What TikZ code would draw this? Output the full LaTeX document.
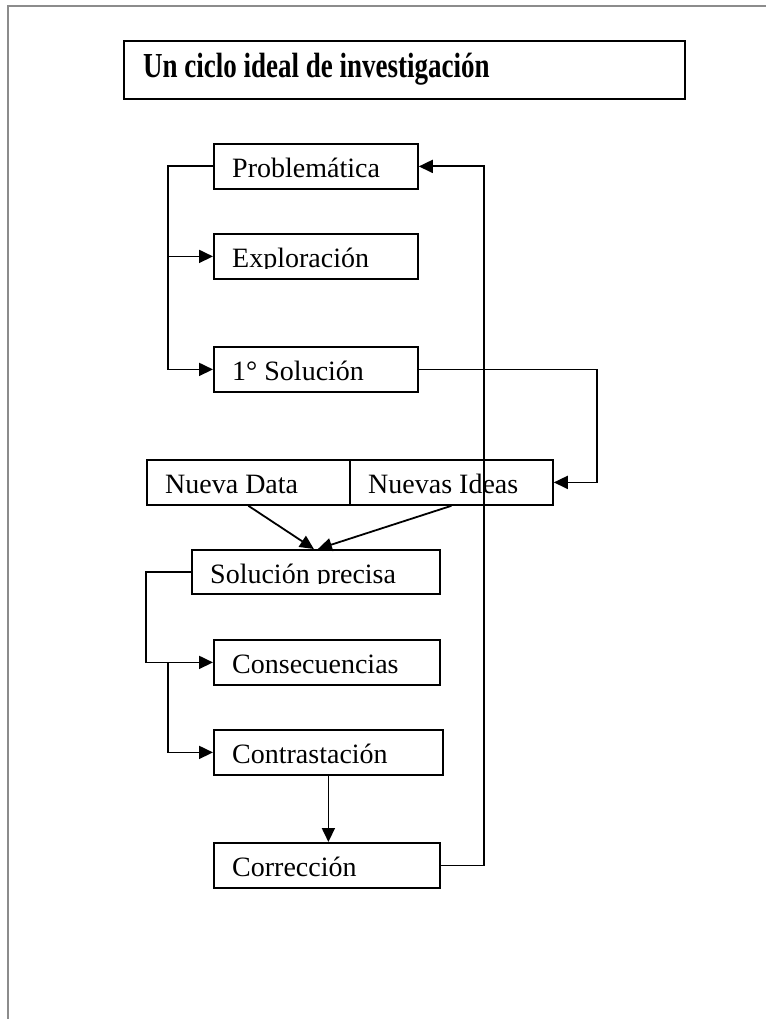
\documentclass[tikz,border=0pt]{standalone}
\usepackage{fontspec}
\setmainfont{Liberation Serif}
\usetikzlibrary{arrows.meta,calc}

% faces for the step labels and for the heading
\newcommand\steplabelfont{\fontsize{28}{32}\selectfont}
\newcommand\headingfont{\bfseries\fontsize{27}{31}\selectfont}

\tikzset{
  outline/.style={draw=black, line width=1.8pt},
  boxframe/.style={outline, inner sep=0pt, anchor=north west},
  boxlabel/.style={font=\steplabelfont, inner sep=0pt, anchor=base west},
  link/.style={line width=1.8pt},
  flow/.style={link, -{Triangle[length=14pt,width=13pt]}},
  pageedge/.style={draw=black!45, line width=2pt}
}

% \flowbox{name}{left}{top}{width}{height}{text}
% the label is clipped to the upper part of the box, like a text frame
\newcommand\flowbox[6]{%
  \node[boxframe, minimum width=#4pt, minimum height=#5pt] (#1) at (#2,#3) {};
  \begin{scope}
    \clip (#2,#3) rectangle ++(#4,#5-10);
    \node[boxlabel] (#1-label) at (#2+19,#3+34.5) {#6};
  \end{scope}}

\begin{document}
\begin{tikzpicture}[x=1pt,y=-1pt]
\useasboundingbox (0,0) rectangle (766,1019);

% page edge
\draw[pageedge] (8,1019) -- (8,6) -- (766,6);

% heading
\node[boxframe, minimum width=561pt, minimum height=58pt] (title) at (123,40) {};
\node[font=\headingfont, inner sep=0pt, anchor=base west] (title-label) at (143,78)
  {\scalebox{1}[1.3]{Un ciclo ideal de investigación}};

% steps
\flowbox{prob}{213}{143}{204}{45}{Problemática}
\flowbox{expl}{213}{233}{204}{45}{Exploración}
\flowbox{sol1}{213}{346}{204}{45}{1° Solución}
\flowbox{data}{146}{459}{203}{45}{Nueva Data}
\flowbox{ideas}{349}{459}{203}{45}{Nuevas Ideas}
\flowbox{prec}{191}{549}{248}{44}{Solución precisa}
\flowbox{cons}{213}{639}{226}{45}{Consecuencias}
\flowbox{contr}{213}{729}{229}{45}{Contrastación}
\flowbox{corr}{213}{842}{226}{45}{Corrección}

% rails of the connectors
\coordinate (railA) at (168,0);
\coordinate (railR) at (484,0);
\coordinate (railS) at (597,0);
\coordinate (railP) at (146,0);

% first phase
\draw[flow] (prob.west) -- (prob.west -| railA) |- (sol1.west);
\draw[flow] (expl.west -| railA) -- (expl.west);
\draw[flow] (sol1.east) -- (sol1.east -| railS) |- (ideas.east);

% second phase
\draw[flow] (data.south) -- ($(prec.north)+(-2,0)$);
\draw[flow] (ideas.south) -- ($(prec.north)+(2,0)$);
\draw[flow] (prec.west) -- (prec.west -| railP) |- (cons.west);
\draw[flow] (cons.west -| railA) |- (contr.west);
\draw[flow] (contr.south) -- (contr.south |- corr.north);

% feedback loop
\draw[flow] (corr.east) -- (corr.east -| railR) |- (prob.east);
\end{tikzpicture}
\end{document}
